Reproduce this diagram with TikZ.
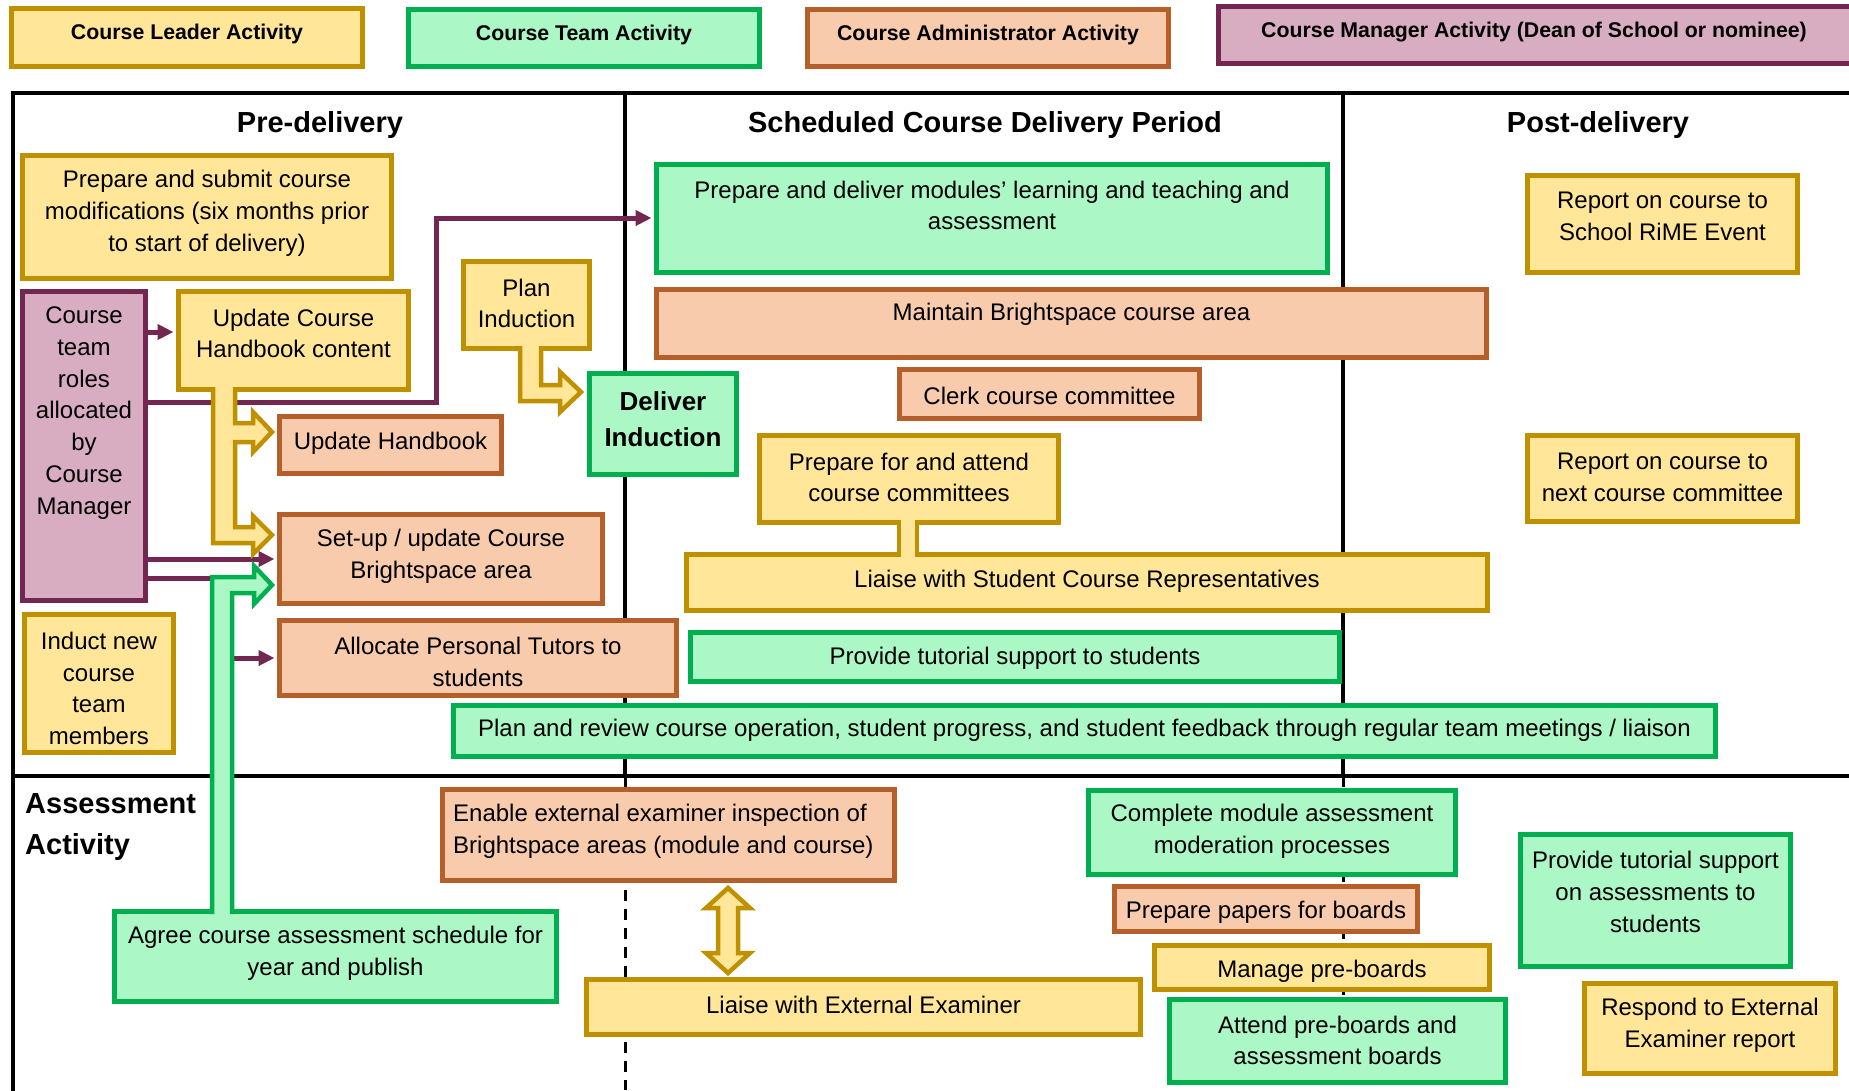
\documentclass[tikz,border=0pt]{standalone}
\usepackage{fontspec}
\setmainfont{Liberation Sans}
\usepackage{xcolor}
\usepackage{tikz}
\usetikzlibrary{arrows.meta}
\definecolor{leadfill}{HTML}{FFE699}
\definecolor{leadline}{HTML}{BF9000}
\definecolor{teamfill}{HTML}{ABF7C5}
\definecolor{teamline}{HTML}{00B050}
\definecolor{adminfill}{HTML}{F8CBAD}
\definecolor{adminline}{HTML}{B5602B}
\definecolor{mgrfill}{HTML}{D8ADC2}
\definecolor{mgrline}{HTML}{732650}
\tikzset{
  bx/.style={rectangle,line width=5pt,inner sep=0pt},
  lead/.style={bx,fill=leadfill,draw=leadline},
  team/.style={bx,fill=teamfill,draw=teamline},
  admin/.style={bx,fill=adminfill,draw=adminline},
  mgr/.style={bx,fill=mgrfill,draw=mgrline},
  txt/.style={inner sep=0pt,align=center,yshift=-1.5pt,font=\fontsize{24}{31.8}\selectfont},
  key/.style={font=\bfseries\fontsize{21.3}{25}\selectfont},
  ttl/.style={inner sep=0pt,align=left,font=\bfseries\fontsize{29}{41}\selectfont},
  frame/.style={line width=4pt},
  cut/.style={line width=3pt,dash pattern=on 11pt off 8pt},
  mg/.style={mgrline,line width=5pt,shorten >=2.5pt,-{Triangle[length=16pt,width=15pt]}},
  fat/.style={line width=4.5pt}
}
% box from outer corners (x0,y0)-(x1,y1), text node on top
\newcommand{\actbox}[8][]{\node[#2,minimum width={#6-#4-5},minimum height={#7-#5-5}] (#3) at ({(#4+#6)/2},{(#5+#7)/2}) {}; \node[txt,#1] (#3-t) at (#3.center) {#8};}
\newcommand{\hbpath}{(213,387) -- (213,543) -- (253,543) -- (253,554) -- (272,535) -- (253,516) -- (253,527) -- (235,527) -- (235,442) -- (253,442) -- (253,452) -- (272,432) -- (253,412) -- (253,423) -- (235,423) -- (235,387)}
\newcommand{\planpath}{(520,346) -- (520,401) -- (560,401) -- (560,412) -- (581,392) -- (560,372) -- (560,385) -- (541,385) -- (541,346)}
\newcommand{\agreepath}{(212,914) -- (212,577) -- (254,577) -- (254,566) -- (272,585) -- (254,604) -- (254,593) -- (232,593) -- (232,914)}

\begin{document}
\begin{tikzpicture}[x=1pt,y=-1pt]
\useasboundingbox (0,0) rectangle (1849,1090);
\fill[white] (0,0) rectangle (1849,1090);
\clip (0,0) rectangle (1849,1090);

% key
\actbox[key,yshift=5pt]{lead}{klead}{9}{6}{365}{69}{Course Leader Activity}
\actbox[key,yshift=5pt]{team}{kteam}{406}{7}{762}{69}{Course Team Activity}
\actbox[key,yshift=5pt]{admin}{kadmin}{805}{7}{1171}{69}{Course Administrator Activity}
\actbox[key,yshift=4pt,xshift=-2pt]{mgr}{kmgr}{1216}{4}{1856}{66}{Course Manager Activity (Dean of School or nominee)}

% frame
\draw[frame] (1860,93) -- (13,93) -- (13,1095);
\draw[frame] (13,776) -- (1860,776);
\draw[frame] (625,93) -- (625,776); \draw[cut] (625,776) -- (625,1090);
\draw[frame] (1343,93) -- (1343,776); \draw[cut] (1343,776) -- (1343,995);
\node[ttl] (tpre) at (320,125) {Pre-delivery};
\node[ttl] (tdel) at (985,125) {Scheduled Course Delivery Period};
\node[ttl] (tpost) at (1598,125) {Post-delivery};
\node[ttl,anchor=west] (tasmt) at (25,827) {Assessment\\Activity};

% pre-delivery
\actbox[yshift=5pt]{lead}{mods}{20}{153}{394}{281}{Prepare and submit course\\modifications (six months prior\\to start of delivery)}
\actbox[yshift=34.5pt]{mgr}{roles}{20}{289}{148}{603}{Course\\team\\roles\\allocated\\by\\Course\\Manager}
\actbox[yshift=8.5pt]{lead}{hbtext}{176}{289}{411}{392}{Update Course\\Handbook content}
\actbox[yshift=3pt]{admin}{hbook}{277}{414}{504}{476}{Update Handbook}
\actbox[yshift=4pt]{admin}{setup}{277}{512}{605}{606}{Set-up / update Course\\Brightspace area}
\actbox[yshift=-3.5pt]{lead}{induct}{22}{612}{176}{755}{Induct new\\course\\team\\members}
\actbox[yshift=-2.5pt]{admin}{tutors}{277}{618}{679}{698}{Allocate Personal Tutors to\\students}
\actbox[yshift=3pt]{lead}{planind}{461}{259}{592}{351}{Plan\\Induction}
\actbox[yshift=6pt,font=\bfseries\fontsize{26}{36}\selectfont]{team}{delind}{587}{371}{739}{477}{Deliver\\Induction}

% delivery period
\actbox[yshift=14.5pt]{team}{teach}{654}{162}{1330}{275}{Prepare and deliver modules’ learning and teaching and\\assessment}
\actbox[yshift=10.5pt]{admin}{maint}{654}{287}{1489}{360}{Maintain Brightspace course area}
\actbox{admin}{clerk}{897}{367}{1202}{421}{Clerk course committee}
\actbox[yshift=3pt]{lead}{cttee}{757}{433}{1061}{525}{Prepare for and attend\\course committees}
\actbox[yshift=2.5pt]{lead}{reps}{684}{552}{1490}{613}{Liaise with Student Course Representatives}
\actbox{team}{tutsup}{688}{630}{1342}{684}{Provide tutorial support to students}
\actbox[yshift=2pt]{team}{review}{451}{703}{1718}{759}{Plan and review course operation, student progress, and student feedback through regular team meetings / liaison}

% post-delivery
\actbox[yshift=9.5pt]{lead}{rime}{1525}{173}{1800}{275}{Report on course to\\School RiME Event}
\actbox[yshift=3pt]{lead}{nextcc}{1525}{433}{1800}{524}{Report on course to\\next course committee}

% assessment
\actbox[align=left,anchor=west,xshift=-215.5pt,yshift=5.5pt]{admin}{exinsp}{440}{787}{897}{883}{Enable external examiner inspection of\\Brightspace areas (module and course)}
\actbox[yshift=4pt]{lead}{exlia}{584}{977}{1143}{1037}{Liaise with External Examiner}
\actbox[yshift=5pt]{team}{agree}{112}{909}{559}{1004}{Agree course assessment schedule for\\year and publish}
\actbox[yshift=3pt]{team}{moder}{1086}{788}{1458}{877}{Complete module assessment\\moderation processes}
\actbox[yshift=-2pt]{admin}{papers}{1112}{884}{1420}{934}{Prepare papers for boards}
\actbox[yshift=-2.5pt]{lead}{preb}{1152}{943}{1492}{992}{Manage pre-boards}
\actbox[yshift=2pt]{team}{boards}{1167}{997}{1508}{1085}{Attend pre-boards and\\assessment boards}
\actbox[yshift=10pt]{team}{tutass}{1518}{832}{1793}{969}{Provide tutorial support\\on assessments to\\students}
\actbox[yshift=5pt]{lead}{exresp}{1582}{981}{1838}{1076}{Respond to External\\Examiner report}

% course manager links
\coordinate (kinkb) at (436,218);
\coordinate (kinkd) at (212,658);
\draw[mg] (roles.east |- 0,332) -- (hbtext.west |- 0,332);
\draw[mg] (roles.east |- 0,402) -| (kinkb) -- (teach.west |- kinkb);
\draw[mg] (roles.east |- 0,559) -- (setup.west |- 0,559);
\draw[mg] (roles.east |- 0,578) -| (kinkd) -- (tutors.west |- kinkd);

% block arrows
\fill[leadfill] \hbpath -- cycle; \draw[fat,leadline] \hbpath;
\fill[leadfill] \planpath -- cycle; \draw[fat,leadline] \planpath;
\fill[teamfill] \agreepath -- cycle; \draw[fat,teamline] \agreepath;
\draw[fat,leadline,fill=leadfill] (728,888) -- (750,908) -- (738,908) -- (738,953) -- (750,953) -- (728,973) -- (706,953) -- (718,953) -- (718,908) -- (706,908) -- cycle;
\fill[leadfill] (899,519) rectangle (917,558); \draw[fat,leadline] (899,520) -- (899,557) (917,520) -- (917,557);
\end{tikzpicture}
\end{document}
